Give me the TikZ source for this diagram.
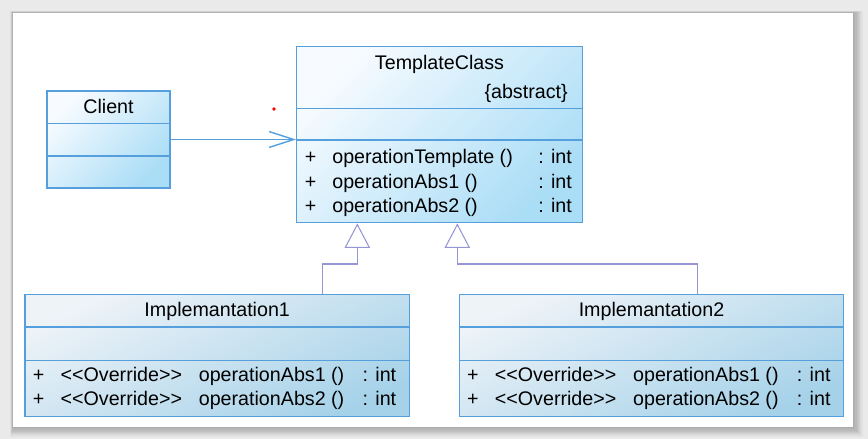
\documentclass[tikz,border=0pt]{standalone}
\usepackage{fontspec}
\setmainfont{Liberation Sans}
\usetikzlibrary{arrows.meta, positioning, calc}
\definecolor{umlborder}{RGB}{85,160,220}
\definecolor{umltop}{RGB}{247,251,255}
\definecolor{umlbottom}{RGB}{170,221,246}
\definecolor{impltop}{RGB}{238,243,248}
\definecolor{implbottom}{RGB}{166,210,233}
\definecolor{inheritline}{RGB}{150,150,212}
\definecolor{backgray}{RGB}{234,234,234}
\newcommand{\ovride}{<\kern0pt<Override>\kern0pt>}
\tikzset{
  classbox/.style={draw=umlborder, line width=0.8pt, rectangle, inner sep=0pt,
    top color=umltop, bottom color=umlbottom, shading angle=45},
  implbox/.style={draw=umlborder, line width=0.8pt, rectangle, inner sep=0pt,
    top color=impltop, bottom color=implbottom, shading angle=25,
    minimum width=7.69cm, minimum height=2.44cm},
  compline/.style={draw=umlborder, line width=0.8pt},
  titletext/.style={inner sep=0pt, text height=7.9pt, text depth=0pt},
  methtext/.style={inner sep=0pt, anchor=west, text height=7.9pt, text depth=0pt},
  assoc/.style={draw=umlborder, line width=0.8pt, -{Straight Barb[length=14pt, width=9pt]}},
  inherit/.style={draw=inheritline, line width=0.6pt, -{Triangle[open, length=14pt, width=14.5pt]}}
}
\begin{document}
\begin{tikzpicture}[x=0.02cm, y=-0.02cm, font=\fontsize{11.2}{13}\selectfont]
  \useasboundingbox (0,0) rectangle (868,439);

  % Page and its shadow
  \fill[backgray] (0,0) rectangle (868,439);
  \foreach \s in {1,...,8}
    \fill[black, opacity=0.035] ({13-\s/3},{13-\s/4}) rectangle ({853+\s*1.2},{427+\s*1.2});
  \fill[white] (13,13) rectangle (853,427);
  \fill[red] (274,109) circle (1pt);

  % Client
  \node[classbox, minimum width=2.46cm, minimum height=1.94cm] (client) at (108.5,139.5) {};
  \draw[compline] (client.west |- 0,123.3) -- (client.east |- 0,123.3);
  \draw[compline] (client.west |- 0,156) -- (client.east |- 0,156);
  \node[titletext] (cname) at (108.5,106.5) {Client};

  % TemplateClass
  \node[classbox, minimum width=5.71cm, minimum height=3.52cm] (template) at (439.5,134.7) {};
  \draw[compline] (template.west |- 0,108.3) -- (template.east |- 0,108.3);
  \draw[compline] (template.west |- 0,140) -- (template.east |- 0,140);
  \node[titletext] (tname) at (439.5,62.3) {TemplateClass};
  \node[titletext, anchor=east] (tabs) at (568,91.7) {\{abstract\}};
  \foreach \op [count=\i] in {operationTemplate (), operationAbs1 (), operationAbs2 ()}{
    \pgfmathsetmacro{\rowy}{157+24.5*(\i-1)}
    \node[methtext, anchor=center] (tplus\i) at (310.7,\rowy) {+};
    \node[methtext] (top\i) at (332,\rowy) {\op};
    \node[methtext] (tint\i) at (538,\rowy) {: int};
  }

  % Implementations
  \node[implbox] (impl1) at (217.2,355.5) {};
  \node[implbox] (impl2) at (651.5,355.5) {};
  \foreach \k in {1,2}{
    \draw[compline] (impl\k.west |- 0,327) -- (impl\k.east |- 0,327);
    \draw[compline] (impl\k.west |- 0,360.3) -- (impl\k.east |- 0,360.3);
    \node[titletext] (iname\k) at (impl\k |- 0,310) {Implemantation\k};
    \foreach \op [count=\j] in {operationAbs1 (), operationAbs2 ()}{
      \pgfmathsetmacro{\rowy}{375+23.3*(\j-1)}
      \node[methtext, anchor=center] (iplus\k\j) at ($(impl\k.west |- 0,\rowy)+(14.3,0)$) {+};
      \node[methtext] (iovr\k\j) at ($(impl\k.west |- 0,\rowy)+(36,0)$) {\ovride};
      \node[methtext] (iop\k\j) at ($(impl\k.west |- 0,\rowy)+(174.2,0)$) {\op};
      \node[methtext] (iint\k\j) at ($(impl\k.west |- 0,\rowy)+(338,0)$) {: int};
    }
  }

  % Connectors
  \draw[assoc] (client.east) -- (client.east -| template.west);

  \coordinate (bendA) at (322.7,264);
  \coordinate (bendB) at (357.3,264);
  \coordinate (bendC) at (697.7,264);
  \coordinate (bendD) at (457.3,264);
  \draw[inherit] (bendA |- impl1.north) -- (bendA) -- (bendB) -- (bendB |- template.south);
  \draw[inherit] (bendC |- impl2.north) -- (bendC) -- (bendD) -- (bendD |- template.south);
\end{tikzpicture}
\end{document}
